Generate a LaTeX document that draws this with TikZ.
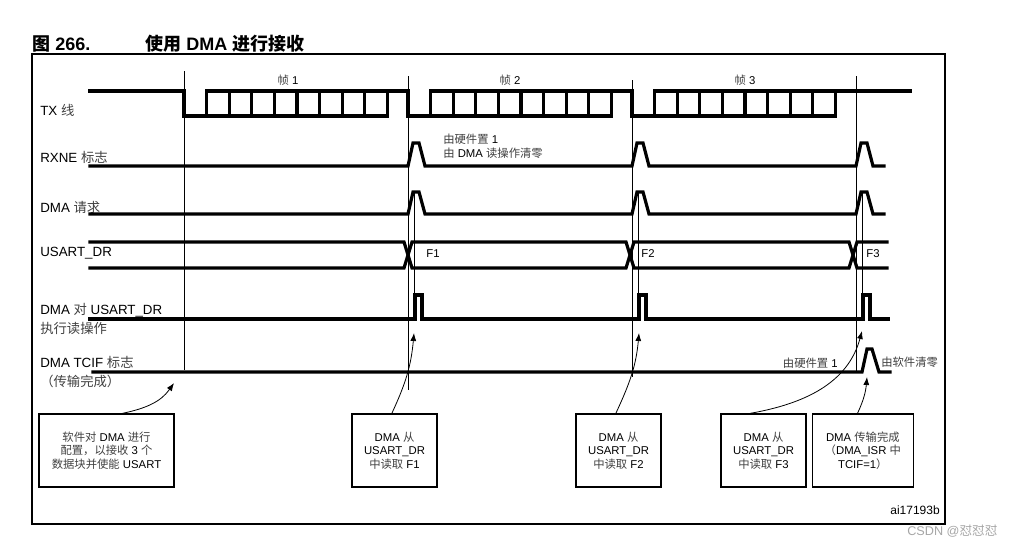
\documentclass[tikz,border=0pt]{standalone}
\usepackage{fontspec}
\setmainfont{Liberation Sans}
\newfontfamily\cjk{Noto Sans CJK SC}
\usepackage{tikz}
\usetikzlibrary{positioning}
\usetikzlibrary{arrows.meta}
\newcommand\zh[1]{{\cjk\color{black!75}#1}}

\begin{document}
\begin{tikzpicture}[x=0.75pt,y=-0.75pt,
  sig/.style={line width=2.4pt,line cap=rect},
  guide/.style={line width=0.6pt},
  lbl/.style={anchor=west,inner sep=0pt,align=left,font=\fontsize{10}{14.25}\selectfont},
  note/.style={inner sep=0pt,align=left,font=\fontsize{8.5}{10.5}\selectfont},
  box/.style={draw,line width=1pt,minimum width=63.75pt,minimum height=54.75pt,align=center,inner sep=1pt,font=\fontsize{8.5}{10.1}\selectfont},
  arr/.style={-{Latex[length=6pt,width=4.5pt]},line width=0.6pt}]
\useasboundingbox (0,0) rectangle (1021,547);
\draw[line width=1.8pt] (32,54) rectangle (945,524);
\node[anchor=base west,inner sep=0pt,font=\bfseries\fontsize{13.5}{16}\selectfont] (fig) at (32,50) {{\cjk 图} 266.};
\node[anchor=base west,inner sep=0pt,font=\bfseries\fontsize{13.5}{16}\selectfont] (title) at (145,50) {{\cjk 使用} DMA {\cjk 进行接收}};

\node[lbl] (tx)   at (40,110)   {TX \zh{线}};
\node[lbl] (rxne) at (40,157)   {RXNE \zh{标志}};
\node[lbl] (req)  at (40,207)   {DMA \zh{请求}};
\node[lbl] (dr)   at (40,253)   {USART\_DR};
\node[lbl] (rd)   at (40,318.5) {DMA \zh{对} USART\_DR\\\zh{执行读操作}};
\node[lbl] (tcif) at (40,372.5) {DMA TCIF \zh{标志}\\\zh{（传输完成）}};
\foreach \x/\n in {288/1,510/2,745/3}
  \node[note] (frame\n) at (\x,80) {\zh{帧} \n};

\foreach \x/\a/\b in {184/71/370,408/76/390,632/80/377,856/76/372}
  \draw[guide] (\x,\a) -- (\x,\b);
\foreach \x in {414,638,862}
  \draw[guide] (\x,193) -- (\x,320);

\draw[sig] (90,91) -- (184,91);
\foreach \f in {184,408,632} {
  \draw[sig] (\f,91) -- (\f,116) -- (\f+203.4,116) -- (\f+203.4,91);
  \draw[sig] (\f+22.6,116) -- (\f+22.6,91) -- (\f+224,91);
  \foreach \k in {2,...,8}
    \draw[sig] (\f+22.6*\k,91) -- (\f+22.6*\k,116);
}
\draw[sig] (856,91) -- (910,91);

\draw[sig] (90,166) \foreach \f in {408,632,856} { -- (\f,166) -- (\f+5,143) -- (\f+11,143) -- (\f+17,166) } -- (884,166);
\draw[sig] (90,214) \foreach \f in {408,632,856} { -- (\f,214) -- (\f+5,192) -- (\f+11,192) -- (\f+17,214) } -- (884,214);

\draw[sig] (90,242) -- (404,242) -- (412,268) -- (626,268) -- (634,242) -- (849,242) -- (857,268) -- (887,268);
\draw[sig] (90,268) -- (404,268) -- (412,242) -- (626,242) -- (634,268) -- (849,268) -- (857,242) -- (887,242);
\node[note] (f1) at (433,254) {F1};
\node[note] (f2) at (648,254) {F2};
\node[note] (f3) at (873,254) {F3};

\draw[sig] (90,319) \foreach \g in {414,638,862} { -- (\g+1,319) -- (\g+1,295) -- (\g+8,295) -- (\g+8,319) } -- (888,319);
\draw[sig] (93,372) -- (862,372) -- (867,349) -- (872,349) -- (879,372) -- (890,372);

\node[note,anchor=west] (set1) at (443,146) {\zh{由硬件置} 1\\\zh{由} DMA \zh{读操作清零}};
\node[note,anchor=east] (set2) at (838,363) {\zh{由硬件置} 1};
\node[note,anchor=west] (clr)  at (881,362) {\zh{由软件清零}};

\node[box,minimum width=101.25pt] (cfg) at (106.5,450.5) {\zh{软件对} DMA \zh{进行}\\\zh{配置，以接收} 3 \zh{个}\\\zh{数据块并使能} USART};
\node[box] (rd1) at (394.5,450.5) {DMA \zh{从}\\USART\_DR\\\zh{中读取} F1};
\node[box] (rd2) at (618.5,450.5) {DMA \zh{从}\\USART\_DR\\\zh{中读取} F2};
\node[box] (rd3) at (763.5,450.5) {DMA \zh{从}\\USART\_DR\\\zh{中读取} F3};
\node[box,minimum width=75.75pt,right=3.75pt of rd3] (tc) {DMA \zh{传输完成}\\\zh{（}DMA\_ISR \zh{中}\\TCIF=1\zh{）}};

\coordinate (en) at (174,383);
\coordinate (t1) at (414,333);
\coordinate (t2) at (639,333);
\coordinate (t3) at (862,331);
\coordinate (done) at (867,377);
\draw[arr] ([xshift=12pt]cfg.north) to[out=12,in=235] (en);
\draw[arr] ([xshift=-2pt]rd1.north) to[out=65,in=265] (t1);
\draw[arr] ([xshift=-2pt]rd2.north) to[out=65,in=265] (t2);
\draw[arr] ([xshift=-10pt]rd3.north) to[out=10,in=255] (t3);
\draw[arr] ([xshift=-4pt]tc.north) to[out=65,in=265] (done);

\node[anchor=east,inner sep=0pt,font=\fontsize{9}{11}\selectfont] (id) at (940,510) {ai17193b};
\node[anchor=west,inner sep=0pt,text=black!35,font=\fontsize{9.5}{11}\selectfont] (mark) at (907,531) {CSDN @{\cjk 怼怼怼}};
\end{tikzpicture}
\end{document}
